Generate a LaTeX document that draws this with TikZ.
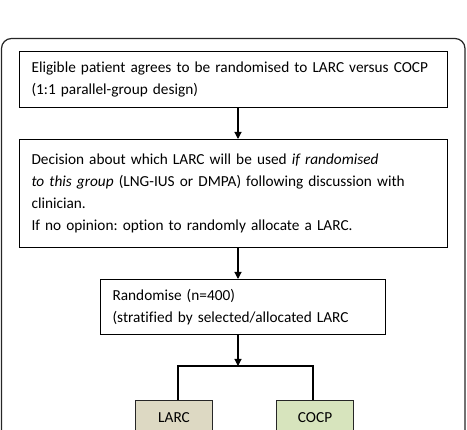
\documentclass[tikz,border=0pt]{standalone}
\usepackage{fontspec}
\setmainfont{Carlito}[Ligatures=NoCommon]
\usetikzlibrary{arrows.meta}
\definecolor{larcfill}{HTML}{DDD9C3}
\definecolor{cocpfill}{HTML}{D7E4BD}
\tikzset{
  stepbox/.style={draw=black, line width=1.1pt, fill=white, align=left,
    inner xsep=12pt, inner ysep=0pt, anchor=north west,
    font=\fontsize{15.3}{22}\selectfont},
  armbox/.style={draw=black!85, line width=1.1pt, anchor=north west,
    minimum width=77pt, minimum height=34pt, inner sep=0pt,
    font=\fontsize{15.3}{20}\selectfont},
  flow/.style={line width=1.1pt, -{Triangle[width=7pt,length=7pt]}},
  branch/.style={line width=1.1pt},
}
\begin{document}
\frenchspacing
\begin{tikzpicture}[x=1pt,y=-1pt]
  \useasboundingbox (0,0) rectangle (467,430);
  \clip (0,0) rectangle (467,430);

  % outer frame
  \draw[line width=1.2pt, draw=black!85, rounded corners=10pt] (1.5,38.5) rectangle (465,470);

  % steps
  \node[stepbox, minimum width=428pt, minimum height=56pt, text width=404pt] (elig) at (19,51)
    {Eligible patient agrees to be randomised to LARC versus COCP\\(1:1 parallel-group design)};
  \node[stepbox, minimum width=428pt, minimum height=108pt, text width=404pt] (decide) at (19,139)
    {Decision about which LARC will be used \textit{if randomised}\\\textit{to this group} (LNG-IUS or DMPA) following discussion with\\clinician.\\If no opinion: option to randomly allocate a LARC.};
  \node[stepbox, minimum width=285pt, minimum height=55pt, text width=261pt] (rand) at (100,279)
    {Randomise (n=400)\\(stratified by selected/allocated LARC};

  % arms
  \node[armbox, fill=larcfill] (larc) at (135,400) {LARC};
  \node[armbox, fill=cocpfill] (cocp) at (276,400) {COCP};

  % connectors
  \coordinate (ax) at (238,0);
  \coordinate (split) at (238,366);
  \coordinate (lx) at (178,366);
  \coordinate (cx) at (313,366);
  \draw[flow] (elig.south -| ax) -- (decide.north -| ax);
  \draw[flow] (decide.south -| ax) -- (rand.north -| ax);
  \draw[flow] (rand.south -| ax) -- (split);
  \draw[branch] (larc.north -| lx) -- (lx) -- (cx) -- (cocp.north -| cx);
\end{tikzpicture}
\end{document}
